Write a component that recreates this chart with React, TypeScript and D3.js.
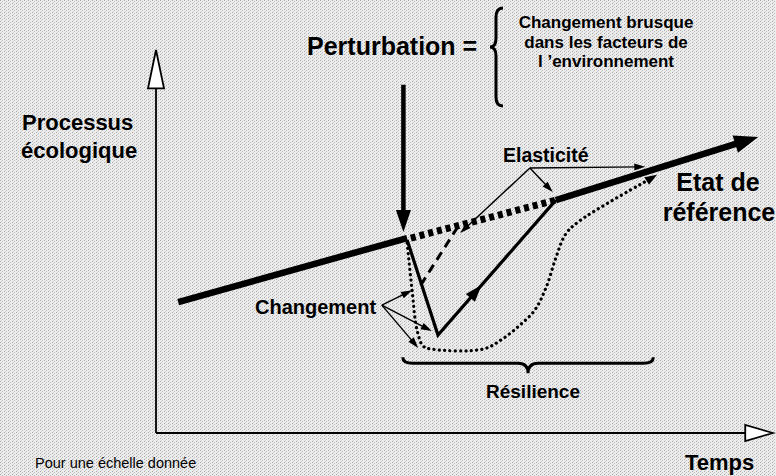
import * as d3 from "d3";

// time (x) and ecological process (y), both on an arbitrary 0..100 scale
const referenceBefore: [number, number][] = [[3.6, 34.2], [40.7, 50.9]];
const referenceGap: [number, number][] = [[41.3, 50.9], [64.8, 60.8]];
const referenceAfter: [number, number][] = [[64.8, 60.8], [97.6, 77.3]];
const perturbationArrow: [number, number][] = [[40.1, 90.9], [40.1, 52.5]];

// the three response trajectories
const elasticPath: [number, number][] = [[40.7, 50.4], [45.7, 25.6], [64.8, 60.8]];
const quickPath: [number, number][] = [[42.9, 38.6], [48.9, 53.8]];
const slowPath: [number, number][] = [
  [40.7, 49.6], [41.5, 37.3], [42.3, 26.9], [43.3, 22.7], [44.7, 21.9],
  [53.0, 21.9], [56.1, 24.5], [59.0, 28.2], [61.4, 32.1], [63.2, 37.9],
  [64.8, 45.7], [66.3, 51.7], [68.4, 55.1], [81.2, 67.4],
];

const changementFrom: [number, number] = [36.6, 33.4];
const changementTo: [number, number][] = [[41.5, 37.3], [44.7, 26.6], [42.5, 22.2]];
const elasticiteFrom: [number, number] = [60.6, 69.2];
const elasticiteTo: [number, number][] = [[49.3, 52.2], [64.3, 62.9], [79.3, 69.5]];

const resilienceSpan = [40.0, 80.6];
const resilienceLevel = [19.8, 15.7];

const brusqueLines = ["Changement brusque", "dans les facteurs de", "l \u2019environnement"];
const yLabel = ["Processus", "écologique"];
const refLabel = ["Etat de", "référence"];

type P = [number, number];

function head(p0: P, p1: P, len: number, wid: number) {
  const dx = p1[0] - p0[0], dy = p1[1] - p0[1];
  const L = Math.hypot(dx, dy);
  const ux = dx / L, uy = dy / L;
  const bx = p1[0] - ux * len, by = p1[1] - uy * len;
  return `M${p1[0]},${p1[1]}L${bx - uy * wid / 2},${by + ux * wid / 2}L${bx + uy * wid / 2},${by - ux * wid / 2}Z`;
}

function shorten(p0: P, p1: P, d: number): P {
  const L = Math.hypot(p1[0] - p0[0], p1[1] - p0[1]);
  return [p1[0] - (p1[0] - p0[0]) / L * d, p1[1] - (p1[1] - p0[1]) / L * d];
}

function hBrace(x1: number, x2: number, y: number, arm: number, tip: number) {
  const mx = (x1 + x2) / 2, r = 10;
  return `M${x1},${y}Q${x1},${y + arm} ${x1 + r},${y + arm}L${mx - r},${y + arm}Q${mx},${y + arm} ${mx},${y + tip}` +
    `Q${mx},${y + arm} ${mx + r},${y + arm}L${x2 - r},${y + arm}Q${x2},${y + arm} ${x2},${y}`;
}

function vBrace(x: number, y1: number, y2: number, ym: number, arm: number, tip: number) {
  const r = 9, xa = x - arm;
  return `M${x},${y1}Q${xa},${y1} ${xa},${y1 + r}L${xa},${ym - r}Q${xa},${ym} ${x - tip},${ym}` +
    `Q${xa},${ym} ${xa},${ym + r}L${xa},${y2 - r}Q${xa},${y2} ${x},${y2}`;
}

export default function App() {
  const width = 776, height = 476;
  const x = d3.scaleLinear([0, 100], [156, 773]);
  const y = d3.scaleLinear([0, 100], [433, 50]);
  const px = (d: [number, number]): P => [x(d[0]), y(d[1])];
  const line = d3.line<[number, number]>().x(d => x(d[0])).y(d => y(d[1]));
  const curve = d3.line<[number, number]>().x(d => x(d[0])).y(d => y(d[1])).curve(d3.curveCatmullRom.alpha(0.5));

  const font = "'Liberation Sans', Arial, Helvetica, sans-serif";

  // reference arrow end
  const refA = px(referenceAfter[0]), refB = px(referenceAfter[1]);
  const refEnd = shorten(refA, refB, 16);
  // perturbation arrow
  const pA = px(perturbationArrow[0]), pB = px(perturbationArrow[1]);
  // elastic path mid arrow
  const eV = px(elasticPath[1]), eEnd = px(elasticPath[2]);
  const eMid: P = [eV[0] + (eEnd[0] - eV[0]) * 0.37, eV[1] + (eEnd[1] - eV[1]) * 0.37];
  // slow path end
  const sLast = px(slowPath[slowPath.length - 1]), sPrev = px(slowPath[slowPath.length - 2]);
  const sCut = shorten(sPrev, sLast, 8);
  const slowTrim = slowPath.slice(0, -1).concat([[x.invert(sCut[0]), y.invert(sCut[1])]]);

  const thinArrow = (from: [number, number], to: [number, number], key: string) => {
    const a = px(from), b = px(to);
    const e = shorten(a, b, 6);
    return <g key={key}>
      <line x1={a[0]} y1={a[1]} x2={e[0]} y2={e[1]} stroke="#000" strokeWidth={1.4}/>
      <path d={head(a, b, 11, 7)} fill="#000"/>
    </g>;
  };

  const [r0, r1] = resilienceSpan.map(x);
  const [rTop] = resilienceLevel.map(y);

  return (
    <svg width={width} height={height} viewBox={`0 0 ${width} ${height}`}
         style={{position: "absolute", left: 0, top: 0, display: "block"}}>
      <defs>
        <pattern id="scan" width="4" height="3" patternUnits="userSpaceOnUse">
          <rect width="4" height="3" fill="#ededed"/>
          <rect x="0" y="0" width="1" height="1" fill="#a8a8a8"/>
          <rect x="2" y="1" width="1" height="1" fill="#bdbdbd"/>
          <rect x="1" y="2" width="1" height="1" fill="#d0d0d0"/>
        </pattern>
      </defs>
      <rect width={width} height={height} fill="url(#scan)"/>

      {/* axes */}
      <line x1={x(0)} y1={y(0)} x2={x(0)} y2={y(95)} stroke="#000" strokeWidth={1.8}/>
      <path d={`M${x(0)},${y(100)}L${x(0) - 8},${y(90)}L${x(0) + 8},${y(90)}Z`} fill="#fff" stroke="#000" strokeWidth={1.8}/>
      <line x1={x(0)} y1={y(0)} x2={x(97)} y2={y(0)} stroke="#000" strokeWidth={2.2}/>
      <path d={`M${x(100)},${y(0)}L${x(95.5)},${y(0) - 8}L${x(95.5)},${y(0) + 8}Z`} fill="#fff" stroke="#000" strokeWidth={1.8}/>

      {/* reference state */}
      <path d={line(referenceBefore)!} fill="none" stroke="#000" strokeWidth={6.5}/>
      <path d={line(referenceGap)!} fill="none" stroke="#000" strokeWidth={7} strokeDasharray="5 4"/>
      <path d={line([referenceAfter[0], [x.invert(refEnd[0]), y.invert(refEnd[1])]])!} fill="none" stroke="#000" strokeWidth={6.5}/>
      <path d={head(refA, refB, 24, 18)} fill="#000"/>

      {/* perturbation */}
      <line x1={pA[0]} y1={pA[1]} x2={pB[0]} y2={pB[1] - 12} stroke="#000" strokeWidth={4.5}/>
      <path d={head(pA, pB, 22, 15)} fill="#000"/>

      {/* responses */}
      <path d={line(elasticPath)!} fill="none" stroke="#000" strokeWidth={3.2} strokeLinejoin="miter"/>
      <path d={head(eV, eMid, 17, 12)} fill="#000"/>
      <path d={line(quickPath)!} fill="none" stroke="#000" strokeWidth={3} strokeDasharray="9 6"/>
      <path d={curve(slowTrim)!} fill="none" stroke="#000" strokeWidth={3.2} strokeDasharray="0.1 5.2" strokeLinecap="round"/>
      <path d={head(sPrev, sLast, 12, 9)} fill="#000"/>

      {/* annotations */}
      {changementTo.map((t, i) => thinArrow(changementFrom, t, `c${i}`))}
      {elasticiteTo.map((t, i) => thinArrow(elasticiteFrom, t, `e${i}`))}
      <path d={hBrace(r0, r1, rTop, 6, 16)} fill="none" stroke="#000" strokeWidth={3}/>
      <path d={vBrace(503, 8, 106, 47, 7, 13)} fill="none" stroke="#000" strokeWidth={3}/>

      <g fontFamily={font} fontWeight="bold" fill="#000">
        <text x={22} y={130} fontSize={22}>{yLabel[0]}</text>
        <text x={21} y={158} fontSize={22}>{yLabel[1]}</text>
        <text x={307} y={55} fontSize={25}>Perturbation =</text>
        {brusqueLines.map((s, i) => (
          <text key={s} x={606} y={28 + i * 19.5} fontSize={17} textAnchor="middle">{s}</text>
        ))}
        <text x={503} y={162} fontSize={19.5}>Elasticité</text>
        <text x={718} y={191} fontSize={25} textAnchor="middle">{refLabel[0]}</text>
        <text x={719} y={221} fontSize={25} textAnchor="middle">{refLabel[1]}</text>
        <text x={255} y={314} fontSize={20}>Changement</text>
        <text x={533} y={398} fontSize={19} textAnchor="middle">Résilience</text>
        <text x={685} y={470} fontSize={22}>Temps</text>
      </g>
      <text x={35} y={468} fontFamily={font} fontSize={14.5} fill="#000">Pour une échelle donnée</text>
    </svg>
  );
}
